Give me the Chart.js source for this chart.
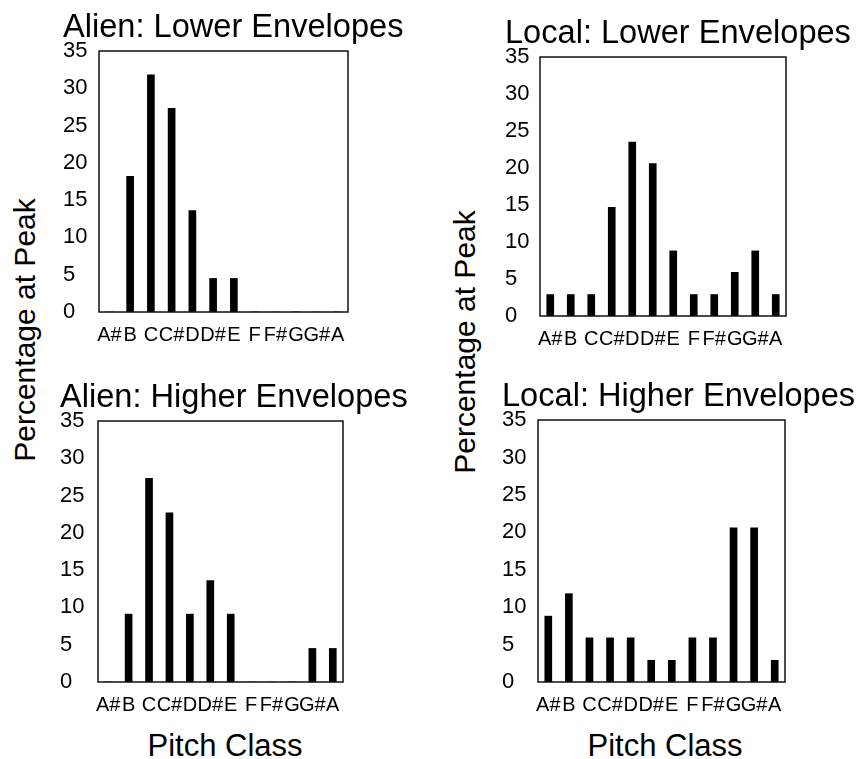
<!DOCTYPE html>
<html>
<head>
<meta charset="utf-8">
<script src="https://cdn.jsdelivr.net/npm/chart.js@4/dist/chart.umd.min.js"></script>
<style>
  body { margin: 0; background: #fff; }
  #page { position: relative; width: 858px; height: 759px; overflow: hidden; font-family: "Liberation Sans", Arial, sans-serif; color: #000; }
  .panel { position: absolute; }
  .ytitle { position: absolute; font-size: 30px; line-height: 30px; white-space: nowrap; transform: translate(-50%, -50%) rotate(-90deg); }
  .xtitle { position: absolute; width: 300px; text-align: center; font-size: 31px; line-height: 30px; }
</style>
</head>
<body>
<div id="page">
  <div class="panel" id="p1"><canvas id="c1"></canvas></div>
  <div class="panel" id="p2"><canvas id="c2"></canvas></div>
  <div class="panel" id="p3"><canvas id="c3"></canvas></div>
  <div class="panel" id="p4"><canvas id="c4"></canvas></div>
  <div class="ytitle" style="left:25px; top:330px;">Percentage at Peak</div>
  <div class="ytitle" style="left:465px; top:342px;">Percentage at Peak</div>
  <div class="xtitle" style="left:75px; top:731px;">Pitch Class</div>
  <div class="xtitle" style="left:515px; top:731px;">Pitch Class</div>
</div>
<script>
const pitchClasses = ['A#', 'B', 'C', 'C#', 'D', 'D#', 'E', 'F', 'F#', 'G', 'G#', 'A'];
const yTicks = [0, 5, 10, 15, 20, 25, 30, 35];

const alienLower  = [0, 18.2, 31.8, 27.3, 13.6, 4.5, 4.5, 0, 0, 0, 0, 0];
const localLower  = [2.9, 2.9, 2.9, 14.7, 23.5, 20.6, 8.8, 2.9, 2.9, 5.9, 8.8, 2.9];
const alienHigher = [0, 9.1, 27.3, 22.7, 9.1, 13.6, 9.1, 0, 0, 0, 4.5, 4.5];
const localHigher = [8.8, 11.8, 5.9, 5.9, 5.9, 2.9, 2.9, 5.9, 5.9, 20.6, 20.6, 2.9];

const FONT = '"Liberation Sans", Arial, sans-serif';
const CANVAS_W = 380;

// frame round the plot area
const frame = {
  id: 'frame',
  afterDatasetsDraw(chart) {
    const a = chart.chartArea;
    const ctx = chart.ctx;
    ctx.save();
    ctx.strokeStyle = '#111';
    ctx.lineWidth = 1.5;
    ctx.strokeRect(a.left, a.top, a.right - a.left, a.bottom - a.top);
    ctx.restore();
  }
};

function makePanel(id, title, values, p) {
  const box = document.getElementById('p' + id);
  box.style.left = p.left + 'px';
  box.style.top = p.top + 'px';
  const canvas = document.getElementById('c' + id);
  canvas.width = CANVAS_W;
  canvas.height = p.height;
  const spare = CANVAS_W - (p.plotRight - p.left);

  return new Chart(canvas, {
    type: 'bar',
    data: {
      labels: pitchClasses,
      datasets: [{
        data: values,
        backgroundColor: '#000',
        borderWidth: 0,
        barThickness: 7
      }]
    },
    options: {
      responsive: false,
      animation: false,
      events: [],
      layout: { padding: 0 },
      plugins: {
        legend: { display: false },
        tooltip: { enabled: false },
        title: {
          display: true,
          text: title,
          align: 'start',
          color: '#000',
          font: { family: FONT, size: 32.6, weight: 'normal', lineHeight: 1.2 },
          padding: { top: p.titleTop, bottom: p.titleBottom }
        }
      },
      scales: {
        x: {
          grid: { display: false, drawTicks: false },
          border: { display: false },
          ticks: {
            autoSkip: false,
            maxRotation: 0,
            padding: 11,
            color: '#000',
            font: { family: FONT, size: 20 }
          },
          afterFit(scale) { scale.height = 40; }
        },
        y: {
          min: 0,
          max: 35,
          grid: { display: false, drawTicks: false },
          border: { display: false },
          afterBuildTicks(scale) { scale.ticks = yTicks.map(v => ({ value: v })); },
          ticks: {
            crossAlign: 'far',
            color: '#000',
            font: { family: FONT, size: 22 }
          },
          afterFit(scale) { scale.width = p.yWidth; }
        },
        // empty right-hand box so the title keeps its full width
        spacer: {
          type: 'linear',
          position: 'right',
          grid: { display: false, drawTicks: false },
          border: { display: false },
          ticks: { display: false },
          afterFit(scale) { scale.width = spare; }
        }
      }
    },
    plugins: [frame]
  });
}

makePanel(1, 'Alien: Lower Envelopes', alienLower,
  { left: 63, top: 0, height: 352, plotRight: 348, yWidth: 36, titleTop: 8.8, titleBottom: 3.1 });
makePanel(2, 'Local: Lower Envelopes', localLower,
  { left: 505, top: 0, height: 356, plotRight: 786, yWidth: 35, titleTop: 14.8, titleBottom: 3.1 });
makePanel(3, 'Alien: Higher Envelopes', alienHigher,
  { left: 60, top: 360, height: 362, plotRight: 343, yWidth: 38, titleTop: 18.8, titleBottom: 3.1 });
makePanel(4, 'Local: Higher Envelopes', localHigher,
  { left: 502, top: 360, height: 362, plotRight: 785, yWidth: 36, titleTop: 17.8, titleBottom: 3.1 });
</script>
</body>
</html>
